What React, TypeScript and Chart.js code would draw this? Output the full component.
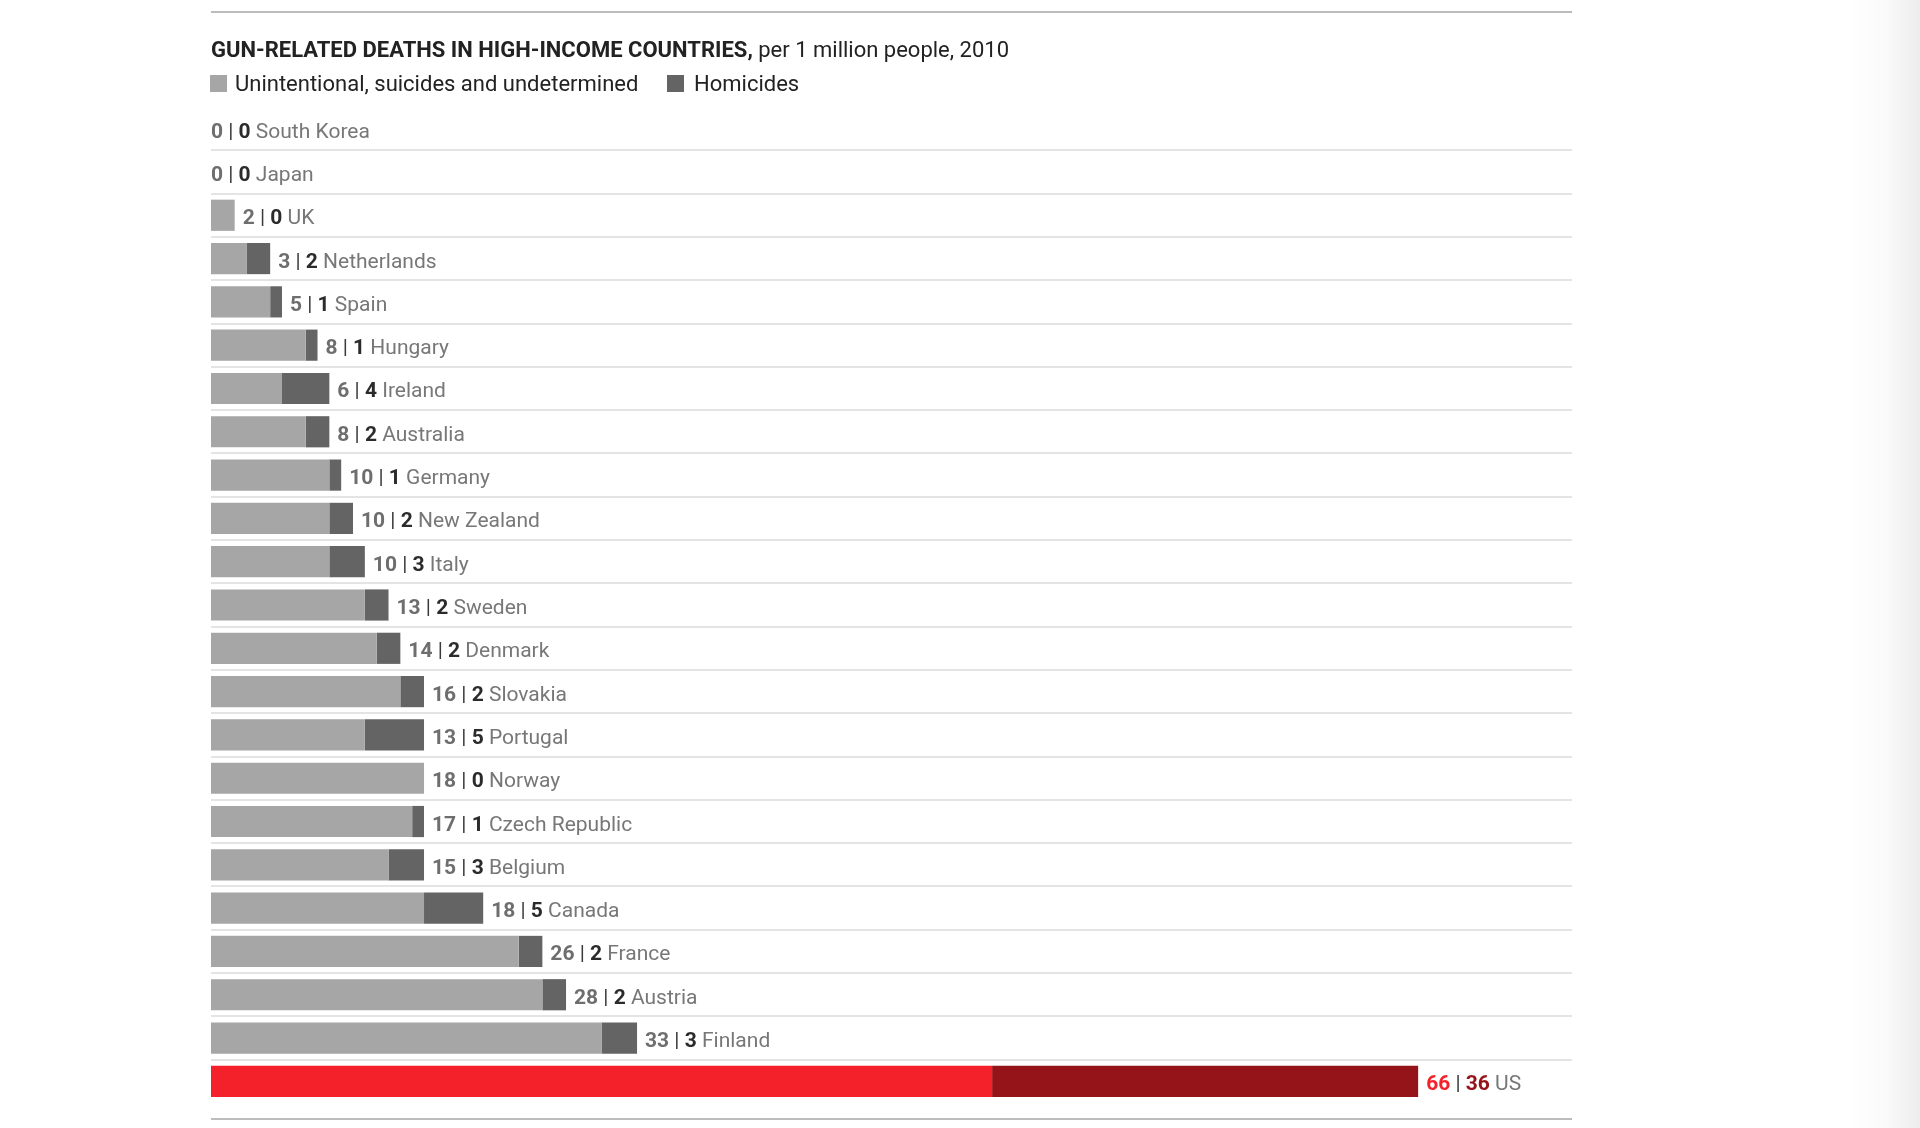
import { useEffect, useRef } from 'react';
import { Chart, registerables } from 'chart.js';

Chart.register(...registerables);

const FONT = 'Roboto, "Noto Sans", sans-serif';

const TITLE_BOLD = 'GUN-RELATED DEATHS IN HIGH-INCOME COUNTRIES,';
const TITLE_REST = ' per 1 million people, 2010';
const SERIES_NAMES = ['Unintentional, suicides and undetermined', 'Homicides'];

const categories = [
  'South Korea', 'Japan', 'UK', 'Netherlands', 'Spain', 'Hungary', 'Ireland', 'Australia',
  'Germany', 'New Zealand', 'Italy', 'Sweden', 'Denmark', 'Slovakia', 'Portugal', 'Norway',
  'Czech Republic', 'Belgium', 'Canada', 'France', 'Austria', 'Finland', 'US',
];
const unintentional = [0, 0, 2, 3, 5, 8, 6, 8, 10, 10, 10, 13, 14, 16, 13, 18, 17, 15, 18, 26, 28, 33, 66];
const homicides = [0, 0, 0, 2, 1, 1, 4, 2, 1, 2, 3, 2, 2, 2, 5, 0, 1, 3, 5, 2, 2, 3, 36];
const highlighted = 'US';

const LIGHT = '#a6a6a6';
const DARK = '#646464';
const RED = '#f5212a';
const DARKRED = '#951419';

const overlayPlugin = {
  id: 'overlay',
  afterDatasetsDraw(chart: any) {
    const ctx = chart.ctx as CanvasRenderingContext2D;
    const xs = chart.scales.x;
    const ys = chart.scales.y;
    const area = chart.chartArea;
    ctx.save();
    // rules
    ctx.fillStyle = '#bcbcbc';
    ctx.fillRect(area.left, 11, area.right - area.left, 2);
    ctx.fillRect(area.left, 1118, area.right - area.left, 2);

    // title
    ctx.textBaseline = 'alphabetic';
    ctx.fillStyle = '#222';
    ctx.font = `bold 22px ${FONT}`;
    ctx.fillText(TITLE_BOLD, area.left, 57);
    const w = ctx.measureText(TITLE_BOLD).width;
    ctx.font = `22px ${FONT}`;
    ctx.fillText(TITLE_REST, area.left + w, 57);

    // legend
    ctx.fillStyle = LIGHT;
    ctx.fillRect(210, 75, 17, 17);
    ctx.fillStyle = DARK;
    ctx.fillRect(667, 75, 17, 17);
    ctx.fillStyle = '#222';
    ctx.font = `22px ${FONT}`;
    ctx.fillText(SERIES_NAMES[0], 235, 91);
    ctx.fillText(SERIES_NAMES[1], 694, 91);

    // labels
    categories.forEach((name, i) => {
      const a = unintentional[i];
      const b = homicides[i];
      const total = a + b;
      let x = xs.getPixelForValue(total) + (total > 0 ? 8 : 0);
      const y = ys.getPixelForValue(i) + 9;
      const hl = name === highlighted;
      const segs: [string, string, string][] = [
        [String(a), 'bold', hl ? RED : '#6e6e6e'],
        [' | ', 'normal', '#3a3a3a'],
        [String(b), 'bold', hl ? DARKRED : '#2b2b2b'],
        [' ' + name, 'normal', '#777777'],
      ];
      segs.forEach(([t, wgt, col]) => {
        ctx.font = `${wgt} 21px ${FONT}`;
        ctx.fillStyle = col;
        ctx.fillText(t, x, y);
        x += ctx.measureText(t).width;
      });
    });
    ctx.restore();
  },
};

export default function App() {
  const ref = useRef<HTMLCanvasElement>(null);
  useEffect(() => {
    document.body.style.margin = '0';
    const canvas = ref.current!;
    const chart = new Chart(canvas, {
      type: 'bar',
      data: {
        labels: categories,
        datasets: [
          {
            label: SERIES_NAMES[0],
            data: unintentional,
            backgroundColor: categories.map((c) => (c === highlighted ? RED : LIGHT)),
            borderWidth: 0,
            barPercentage: 0.72,
            categoryPercentage: 1,
          },
          {
            label: SERIES_NAMES[1],
            data: homicides,
            backgroundColor: categories.map((c) => (c === highlighted ? DARKRED : DARK)),
            borderWidth: 0,
            barPercentage: 0.72,
            categoryPercentage: 1,
          },
        ],
      },
      options: {
        indexAxis: 'y',
        responsive: false,
        animation: false,
        devicePixelRatio: 1,
        layout: { padding: { left: 211, right: 348, top: 107, bottom: 25 } },
        plugins: { legend: { display: false }, tooltip: { enabled: false }, title: { display: false } },
        scales: {
          x: { stacked: true, display: false, min: 0, max: 115 },
          y: {
            stacked: true,
            display: true,
            ticks: { display: false },
            border: { display: false },
            grid: {
              offset: true,
              drawTicks: false,
              tickLength: 0,
              lineWidth: 2,
              color: (c: any) => (c.type === 'tick' && c.index > 0 ? '#e4e4e4' : 'rgba(0,0,0,0)'),
            },
          },
        },
      },
      plugins: [overlayPlugin],
    } as any);
    return () => chart.destroy();
  }, []);
  return (
    <div style={{ position: 'fixed', left: 0, top: 0, width: 1920, height: 1128, background: '#fff', overflow: 'hidden' }}>
      <canvas ref={ref} width={1920} height={1128} style={{ display: 'block', width: 1920, height: 1128 }} />
      <div
        style={{
          position: 'absolute',
          right: 0,
          top: 0,
          width: 70,
          height: '100%',
          background: 'linear-gradient(to right, rgba(0,0,0,0), rgba(0,0,0,0.02) 50%, rgba(0,0,0,0.07))',
          pointerEvents: 'none',
        }}
      />
    </div>
  );
}
